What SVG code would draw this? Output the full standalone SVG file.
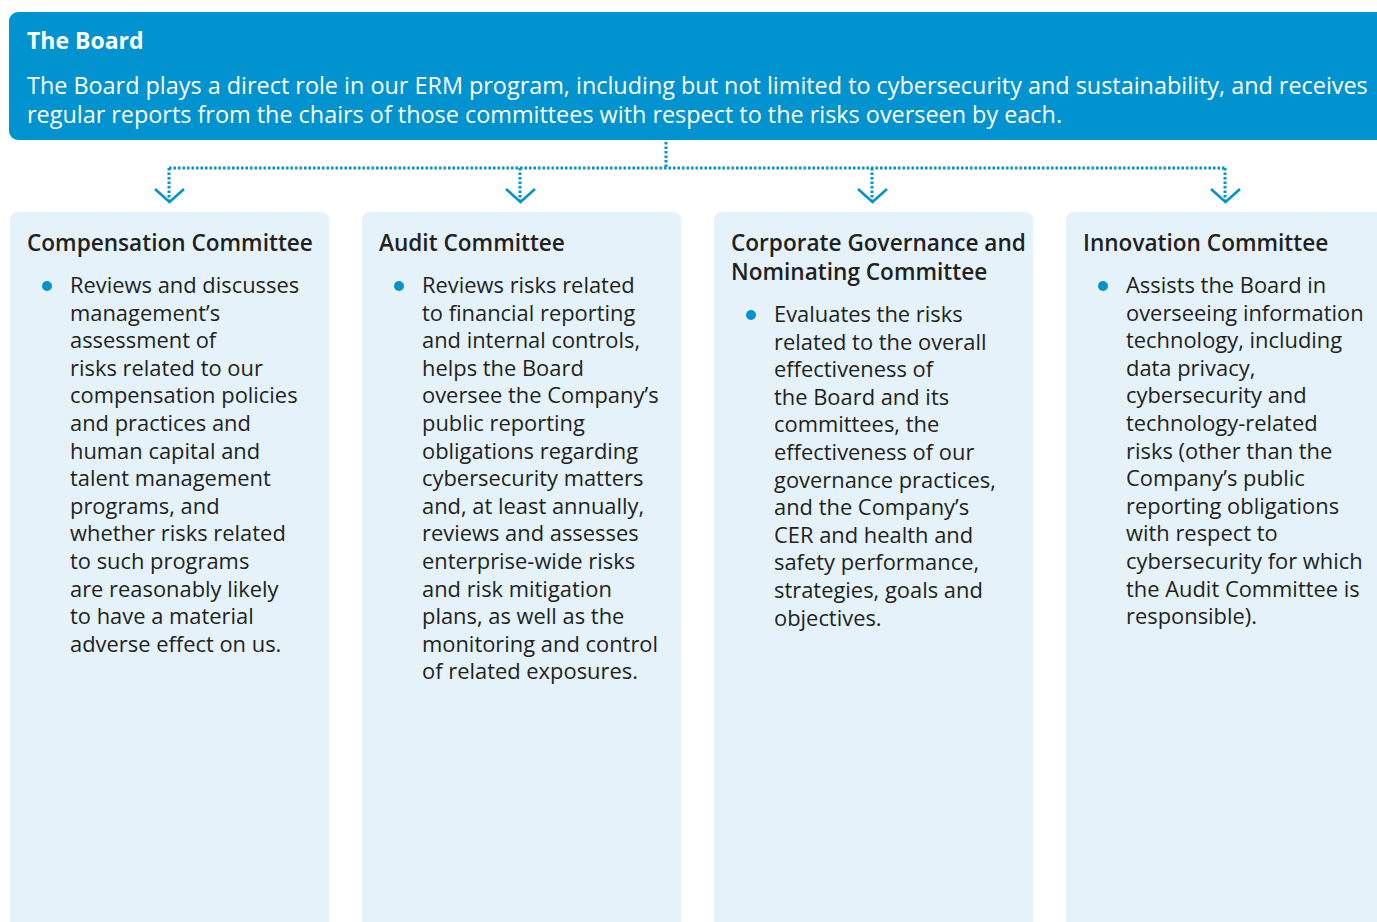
<svg xmlns="http://www.w3.org/2000/svg" width="1377" height="922" viewBox="0 0 1377 922">
<style>
.t{font-family:"Open Sans","Noto Sans",sans-serif;}
.bt{font-size:23px;font-weight:bold;fill:#fff;}
.bb{font-size:23.4px;fill:#fff;}
.h{font-size:22.6px;font-weight:600;fill:#231f20;}
.b{font-size:21.9px;fill:#231f20;}
.card{fill:#e5f2fa;}
.dot{fill:#0093d0;}
.conn{stroke:#0093d0;stroke-width:3;stroke-dasharray:2.5 2;fill:none;}
.chev{stroke:#0093d0;stroke-width:2.5;fill:none;}
</style>
<rect width="1377" height="922" fill="#fff"/>
<g id="board">
<rect x="9" y="12" width="1390" height="128" rx="9" fill="#0093d0"/>
<text class="t bt" x="27" y="49">The Board</text>
<text class="t bb" x="27" y="94">The Board plays a direct role in our ERM program, including but not limited to cybersecurity and sustainability, and receives</text>
<text class="t bb" x="27" y="123">regular reports from the chairs of those committees with respect to the risks overseen by each.</text>
</g>
<g id="connectors">
<path class="conn" d="M666 142V168M169 168H1226M169 168V200M520 168V200M872 168V200M1225 168V200"/>
<path class="chev" d="M155 189L169.5 202L184 189M506 189L520.5 202L535 189M858 189L872.5 202L887 189M1211 189L1225.5 202L1240 189"/>
</g>
<g id="compensation">
<rect class="card" x="10" y="212" width="319" height="720" rx="8"/>
<text class="t h" x="27" y="251">Compensation Committee</text>
<circle class="dot" cx="47" cy="286" r="5"/>
<text class="t b" x="70" y="293">
<tspan x="70" dy="0">Reviews and discusses</tspan>
<tspan x="70" dy="27.6">management’s</tspan>
<tspan x="70" dy="27.6">assessment of</tspan>
<tspan x="70" dy="27.6">risks related to our</tspan>
<tspan x="70" dy="27.6">compensation policies</tspan>
<tspan x="70" dy="27.6">and practices and</tspan>
<tspan x="70" dy="27.6">human capital and</tspan>
<tspan x="70" dy="27.6">talent management</tspan>
<tspan x="70" dy="27.6">programs, and</tspan>
<tspan x="70" dy="27.6">whether risks related</tspan>
<tspan x="70" dy="27.6">to such programs</tspan>
<tspan x="70" dy="27.6">are reasonably likely</tspan>
<tspan x="70" dy="27.6">to have a material</tspan>
<tspan x="70" dy="27.6">adverse effect on us.</tspan>
</text>
</g>
<g id="audit">
<rect class="card" x="362" y="212" width="319" height="720" rx="8"/>
<text class="t h" x="379" y="251">Audit Committee</text>
<circle class="dot" cx="399" cy="286" r="5"/>
<text class="t b" x="422" y="293">
<tspan x="422" dy="0">Reviews risks related</tspan>
<tspan x="422" dy="27.6">to financial reporting</tspan>
<tspan x="422" dy="27.6">and internal controls,</tspan>
<tspan x="422" dy="27.6">helps the Board</tspan>
<tspan x="422" dy="27.6">oversee the Company’s</tspan>
<tspan x="422" dy="27.6">public reporting</tspan>
<tspan x="422" dy="27.6">obligations regarding</tspan>
<tspan x="422" dy="27.6">cybersecurity matters</tspan>
<tspan x="422" dy="27.6">and, at least annually,</tspan>
<tspan x="422" dy="27.6">reviews and assesses</tspan>
<tspan x="422" dy="27.6">enterprise-wide risks</tspan>
<tspan x="422" dy="27.6">and risk mitigation</tspan>
<tspan x="422" dy="27.6">plans, as well as the</tspan>
<tspan x="422" dy="27.6">monitoring and control</tspan>
<tspan x="422" dy="27.6">of related exposures.</tspan>
</text>
</g>
<g id="governance">
<rect class="card" x="714" y="212" width="319" height="720" rx="8"/>
<text class="t h" x="731" y="251"><tspan x="731" dy="0">Corporate Governance and</tspan><tspan x="731" dy="29">Nominating Committee</tspan></text>
<circle class="dot" cx="751" cy="315" r="5"/>
<text class="t b" x="774" y="322">
<tspan x="774" dy="0">Evaluates the risks</tspan>
<tspan x="774" dy="27.6">related to the overall</tspan>
<tspan x="774" dy="27.6">effectiveness of</tspan>
<tspan x="774" dy="27.6">the Board and its</tspan>
<tspan x="774" dy="27.6">committees, the</tspan>
<tspan x="774" dy="27.6">effectiveness of our</tspan>
<tspan x="774" dy="27.6">governance practices,</tspan>
<tspan x="774" dy="27.6">and the Company’s</tspan>
<tspan x="774" dy="27.6">CER and health and</tspan>
<tspan x="774" dy="27.6">safety performance,</tspan>
<tspan x="774" dy="27.6">strategies, goals and</tspan>
<tspan x="774" dy="27.6">objectives.</tspan>
</text>
</g>
<g id="innovation">
<rect class="card" x="1066" y="212" width="330" height="720" rx="8"/>
<text class="t h" x="1083" y="251">Innovation Committee</text>
<circle class="dot" cx="1103" cy="286" r="5"/>
<text class="t b" x="1126" y="293">
<tspan x="1126" dy="0">Assists the Board in</tspan>
<tspan x="1126" dy="27.6">overseeing information</tspan>
<tspan x="1126" dy="27.6">technology, including</tspan>
<tspan x="1126" dy="27.6">data privacy,</tspan>
<tspan x="1126" dy="27.6">cybersecurity and</tspan>
<tspan x="1126" dy="27.6">technology-related</tspan>
<tspan x="1126" dy="27.6">risks (other than the</tspan>
<tspan x="1126" dy="27.6">Company’s public</tspan>
<tspan x="1126" dy="27.6">reporting obligations</tspan>
<tspan x="1126" dy="27.6">with respect to</tspan>
<tspan x="1126" dy="27.6">cybersecurity for which</tspan>
<tspan x="1126" dy="27.6">the Audit Committee is</tspan>
<tspan x="1126" dy="27.6">responsible).</tspan>
</text>
</g>
</svg>
